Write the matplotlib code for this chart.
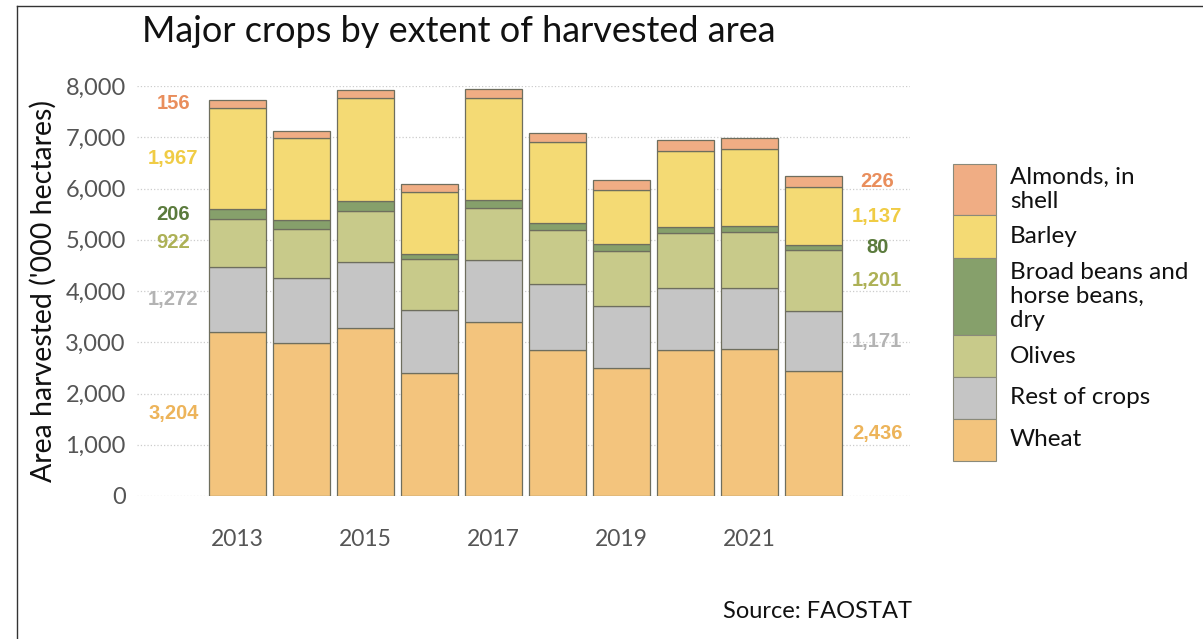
import matplotlib
matplotlib.use("Agg")
import matplotlib.pyplot as plt
from matplotlib.patches import Rectangle
import numpy as np

years = [2013, 2014, 2015, 2016, 2017, 2018, 2019, 2020, 2021, 2022]
crops = ["Wheat", "Rest of crops", "Olives",
         "Broad beans and\nhorse beans,\ndry", "Barley", "Almonds, in\nshell"]
wheat = [3204, 2985, 3272, 2406, 3389, 2843, 2498, 2849, 2868, 2436]
rest = [1272, 1262, 1288, 1217, 1216, 1300, 1215, 1216, 1197, 1171]
olives = [922, 957, 995, 1001, 1021, 1047, 1067, 1060, 1086, 1201]
broad_beans = [206, 181, 201, 98, 143, 143, 137, 117, 117, 80]
barley = [1967, 1594, 2003, 1203, 1997, 1568, 1048, 1496, 1496, 1137]
almonds = [156, 149, 163, 169, 175, 188, 201, 208, 221, 226]
xtick_years = [2013, 2015, 2017, 2019, 2021]
yticks = [0, 1000, 2000, 3000, 4000, 5000, 6000, 7000, 8000]

series = [wheat, rest, olives, broad_beans, barley, almonds]
fills = ["#F3C47D", "#C5C5C5", "#C8CA8A", "#86A06B", "#F4DA74", "#F0AD84"]
label_colors = ["#EDB45A", "#B3B3B3", "#ADB156", "#5B7B3D", "#F0CC45", "#E98E5C"]

FONT = ["Lato", "DejaVu Sans"]
NUMFONT = ["Liberation Sans", "DejaVu Sans"]

fig = plt.figure(figsize=(12.03, 6.39), dpi=100)
W, H = 1203, 639
ax = fig.add_axes([137 / W, 1 - 496 / H, (910 - 137) / W, (496 - 86) / H])

bottom = np.zeros(len(years))
for vals, col in zip(series, fills):
    ax.bar(years, vals, bottom=bottom, width=0.9, color=col,
           edgecolor="#6E6E5E", linewidth=0.9, zorder=3)
    bottom += np.array(vals)

# value labels for first and last year
for vals, col, i in zip(series, label_colors, range(len(series))):
    b0 = sum(s[0] for s in series[:i])
    b1 = sum(s[-1] for s in series[:i])
    ax.text(years[0] - 1, b0 + vals[0] / 2, f"{vals[0]:,}", ha="center",
            va="center", color=col, fontsize=14.5, fontweight="bold",
            family=NUMFONT, clip_on=False)
    ax.text(years[-1] + 1, b1 + vals[-1] / 2, f"{vals[-1]:,}", ha="center",
            va="center", color=col, fontsize=14.5, fontweight="bold",
            family=NUMFONT, clip_on=False)

ax.set_xlim(2011.43, 2023.51)
ax.set_ylim(0, 8000)
ax.set_yticks(yticks)
ax.set_yticklabels([f"{v:,}" for v in yticks], family=FONT, fontsize=17,
                   color="#555555")
ax.set_xticks(xtick_years)
ax.set_xticklabels([str(y) for y in xtick_years], family=FONT, fontsize=16.5,
                   color="#555555")
ax.tick_params(axis="both", length=0)
ax.tick_params(axis="y", pad=8)
ax.tick_params(axis="x", pad=24)
ax.grid(axis="y", color="#CCCCCC", linestyle=":", linewidth=0.9, zorder=0)
for s in ax.spines.values():
    s.set_visible(False)
ax.set_ylabel("Area harvested ('000 hectares)", family=FONT, fontsize=20.5,
              color="#111111", labelpad=6)

fig.text(142 / W, 1 - 32 / H, "Major crops by extent of harvested area",
         family=FONT, fontsize=26, color="#111111", va="center", ha="left")
fig.text(912 / W, 1 - 612 / H, "Source: FAOSTAT", family=FONT, fontsize=17,
         color="#111111", ha="right", va="center")

# legend (top to bottom)
leg_items = list(zip(crops, fills))[::-1]
heights = [51, 43, 77, 42, 42, 42]
y = 164
for (name, col), h in zip(leg_items, heights):
    fig.patches.append(Rectangle((953 / W, 1 - (y + h) / H), 43 / W, h / H,
                                 transform=fig.transFigure, facecolor=col,
                                 edgecolor="#8A8A7A", linewidth=0.8))
    fig.text(1010 / W, 1 - (y + h / 2) / H, name, family=FONT, fontsize=17.5,
             color="#111111", ha="left", va="center", linespacing=1.2)
    y += h

# frame
fig.add_artist(plt.Line2D([17 / W, 17 / W], [0, 1 - 6 / H],
                          transform=fig.transFigure, color="#333333", lw=1))
fig.add_artist(plt.Line2D([17 / W, 1], [1 - 6 / H, 1 - 6 / H],
                          transform=fig.transFigure, color="#333333", lw=1))

fig.savefig("out.png", dpi=100, facecolor="white")
